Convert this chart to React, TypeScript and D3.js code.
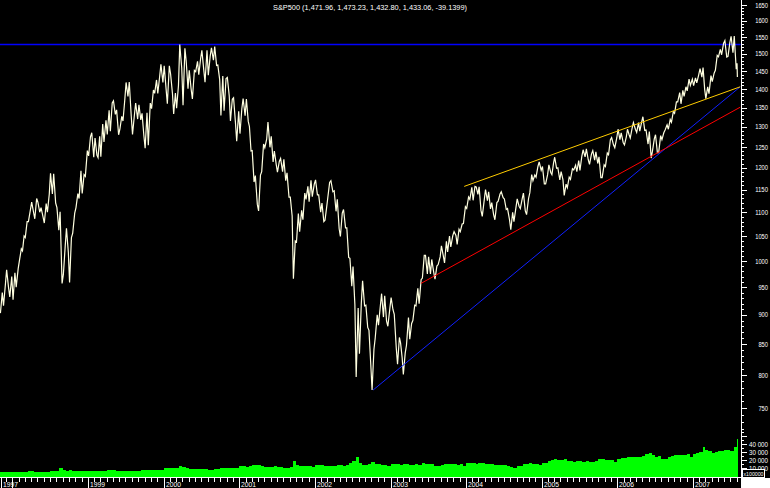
import React from 'react';
import * as d3 from 'd3';

// ---- price data: half-month close ranges (first half = days 1-15, second = 16-end) ----
const lo1997 = [903, 916, 950, 932]; // Nov a .. Dec b
const hi1997 = [940, 955, 983, 970];
const lo1998 = [927,950,1001,1020,1047,1080,1100,1086,1100,1090,1077,1100,1140,1120,1062,957,974,1017,959,1056,1110,1130,1141,1180];
const hi1998 = [977,985,1024,1050,1080,1105,1122,1130,1122,1110,1119,1140,1187,1186,1110,1101,1030,1066,1047,1098,1141,1193,1184,1241];
const lo1999 = [1228,1225,1230,1224,1226,1262,1281,1289,1332,1280,1294,1315,1380,1328,1281,1320,1318,1277,1247,1254,1347,1388,1388,1418];
const hi1999 = [1275,1285,1272,1276,1307,1317,1343,1362,1368,1344,1327,1373,1418,1419,1330,1362,1357,1335,1336,1362,1397,1425,1434,1469];
const lo2000 = [1401,1360,1387,1333,1348,1458,1356,1401,1400,1373,1448,1440,1454,1419,1438,1481,1466,1426,1329,1342,1382,1315,1312,1264];
const hi2000 = [1465,1465,1441,1389,1410,1527,1516,1480,1452,1452,1478,1486,1510,1510,1492,1517,1521,1467,1436,1429,1432,1372,1376,1340];
const lo2001 = [1283,1329,1314,1240,1167,1117,1103,1191,1248,1249,1214,1208,1190,1191,1170,1133,1092,966,1038,1059,1084,1128,1123,1134];
const hi2001 = [1347,1374,1373,1301,1241,1182,1183,1257,1269,1312,1276,1240,1215,1222,1220,1188,1133,1040,1097,1104,1142,1157,1171,1162];
const lo2002 = [1138,1100,1080,1083,1131,1145,1102,1065,1049,1067,1007,952,918,797,834,916,878,815,777,860,882,896,889,880];
const hi2002 = [1172,1138,1120,1110,1166,1170,1147,1128,1098,1106,1067,1005,989,912,920,962,917,873,841,900,916,938,934,911];
const lo2003 = [909,844,817,827,801,848,858,890,916,920,967,975,975,978,965,993,1010,996,1018,1028,1051,1033,1059,1076];
const hi2003 = [931,901,861,852,835,895,885,917,948,964,1011,1011,1008,1003,990,1008,1030,1039,1050,1051,1059,1064,1075,1112];
const lo2004 = [1108,1128,1126,1139,1104,1091,1125,1107,1095,1084,1124,1132,1106,1084,1063,1080,1113,1108,1103,1095,1143,1170,1178,1194];
const hi2004 = [1133,1155,1157,1156,1156,1127,1150,1145,1121,1121,1140,1145,1129,1108,1100,1110,1129,1129,1142,1130,1184,1183,1203,1214];
const lo2005 = [1163,1163,1189,1184,1199,1172,1172,1137,1154,1173,1195,1191,1194,1226,1219,1208,1218,1210,1177,1177,1203,1231,1255,1248];
const hi2005 = [1203,1184,1207,1211,1225,1200,1191,1162,1178,1198,1206,1217,1227,1243,1245,1233,1241,1238,1226,1207,1235,1268,1273,1272];
const lo2006 = [1268,1261,1255,1280,1272,1294,1286,1289,1291,1257,1223,1239,1236,1236,1268,1292,1294,1312,1335,1365,1360,1380,1395,1410];
const hi2006 = [1294,1285,1275,1294,1297,1311,1311,1312,1326,1292,1288,1270,1280,1278,1285,1305,1319,1339,1365,1390,1396,1406,1427,1427];
const lo2007 = [1409,1417,1433,1399,1374,1387,1420,1452,1491,1497,1490,1492,1503,1455,1433];
const hi2007 = [1431,1440,1457,1460,1406,1437,1444,1495,1513,1531,1539,1533,1552,1553,1472];

// ---- volume (x100000), per half-month ----
const vol1997 = [5500,5000,5500,5000];
const vol1998 = [5500,5800,5800,5600,6000,6200,6300,6000,5800,5600,5800,6000,6200,6300,6800,10000,7500,7200,8000,7200,6800,6500,6800,6300];
const vol1999 = [7000,7200,7000,6800,7000,7200,8500,8000,7500,7200,7000,7200,7200,7000,6800,6800,7000,7500,7800,7800,8000,8000,8500,8000];
const vol2000 = [10000,10000,10500,10000,11000,12500,12000,10000,9500,9000,9500,9000,9000,9000,8500,8500,9000,9500,11000,10500,10000,10000,11000,10500];
const vol2001 = [13000,12500,12000,12500,14000,14500,14000,12500,12000,12000,12000,12500,11500,11500,11000,11000,12000,19000,14000,13000,13000,12500,13000,12000];
const vol2002 = [14000,14000,14000,13500,13000,13000,13500,14500,14500,13500,14500,17000,19000,24000,17000,14000,14000,16000,18000,16000,15000,14500,14500,13000];
const vol2003 = [15000,15500,15000,14500,16000,15000,14000,14000,15000,14500,16500,15500,15000,15000,13500,12500,14500,15000,15000,15000,15000,14500,15000,13500];
const vol2004 = [16500,17000,16500,16000,16500,16500,16000,15000,15500,14500,14500,14000,14000,13500,11500,11000,12500,13500,15500,15500,16500,15500,16000,14500];
const vol2005 = [17000,17000,19000,20000,21000,20000,20000,21000,19000,18500,18000,19000,18500,18000,19000,18000,18000,19000,22000,21000,20500,20000,20500,17500];
const vol2006 = [22000,23000,23000,23500,24500,24500,23500,23500,25000,28000,29000,26000,24500,25000,22000,21000,23500,25500,26000,27000,27000,26500,27500,23500];
const vol2007 = [28000,29000,30000,36000,33000,31000,28500,30000,31500,32000,33000,32500,31000,36000,46000];

// ---- reference lines ----
const resistanceLevel = 1527.46;
const blueTrend = [{ date: '2002-10-09', value: 776.8 }, { date: '2007-08-17', value: 1406 }];
const redTrend = [{ date: '2003-05-28', value: 957 }, { date: '2007-08-17', value: 1351 }];
const yellowTrend = [{ date: '2003-12-23', value: 1157 }, { date: '2007-08-17', value: 1406 }];

const yTickLabels = [1650,1600,1550,1500,1450,1400,1350,1300,1250,1200,1150,1100,1050,1000,950,900,850,800,750];
const volTickLabels = [40000, 30000, 20000, 10000];
const yearLabels = ['1999','2000','2001','2002','2003','2004','2005','2006','2007'];
const title = 'S&P500 (1,471.96, 1,473.23, 1,432.80, 1,433.06, -39.1399)';

const lo = [...lo1997, ...lo1998, ...lo1999, ...lo2000, ...lo2001, ...lo2002, ...lo2003, ...lo2004, ...lo2005, ...lo2006, ...lo2007];
const hi = [...hi1997, ...hi1998, ...hi1999, ...hi2000, ...hi2001, ...hi2002, ...hi2003, ...hi2004, ...hi2005, ...hi2006, ...hi2007];
const vol = [...vol1997, ...vol1998, ...vol1999, ...vol2000, ...vol2001, ...vol2002, ...vol2003, ...vol2004, ...vol2005, ...vol2006, ...vol2007];

const lastDate = new Date(Date.UTC(2007, 7, 4));
const periods = lo.map((_, i) => {
  const mIdx = 10 + Math.floor(i / 2); // months since Jan 1997
  const y = 1997 + Math.floor(mIdx / 12);
  const m = mIdx % 12;
  const half = i % 2;
  const start = new Date(Date.UTC(y, m, half ? 16 : 1));
  let end = half ? new Date(Date.UTC(y, m + 1, 1)) : new Date(Date.UTC(y, m, 16));
  if (end > lastDate) end = lastDate;
  return { start, end };
});

const W = 770, H = 488;
const font = "'Liberation Sans', Arial, sans-serif";

export default function App() {
  const x = d3.scaleUtc().domain([new Date(Date.UTC(1999, 0, 1)), new Date(Date.UTC(2007, 0, 1))]).range([88, 693]);
  const y = d3.scaleLog().domain([750, 1650]).range([408, 5]);
  const v = d3.scaleLinear().domain([0, 40000]).range([476.5, 444]);
  const axisX = 741;
  const plotRight = 740.5;

  // zig-zag close path
  const pts: [number, number][] = [];
  for (let i = 0; i < lo.length; i++) {
    const x0 = x(periods[i].start), x1 = x(periods[i].end);
    const mid = (lo[i] + hi[i]) / 2;
    const nextMid = i < lo.length - 1 ? (lo[i + 1] + hi[i + 1]) / 2 : 0;
    const up = nextMid >= mid;
    const a = up ? lo[i] : hi[i];
    const b = up ? hi[i] : lo[i];
    pts.push([x0 + (x1 - x0) * 0.2, y(a)]);
    pts.push([x0 + (x1 - x0) * 0.8, y(b)]);
  }
  const line = d3.line<[number, number]>().x(d => d[0]).y(d => d[1]);

  const trend = (t: { date: string; value: number }[]) => {
    const p = t.map(d => [x(new Date(d.date + 'T00:00:00Z')), y(d.value)] as [number, number]);
    return line(p) || '';
  };

  const monthTicks = d3.utcMonth.range(new Date(Date.UTC(1997, 11, 1)), new Date(Date.UTC(2007, 8, 1)));
  const yearTicks = d3.utcYear.range(new Date(Date.UTC(1998, 0, 1)), new Date(Date.UTC(2007, 1, 1)));
  const minorY = d3.range(720, 1651, 10);
  const volTicks = d3.range(0, 55001, 5000);

  return (
    <svg width={W} height={H} style={{ position: 'absolute', left: 0, top: 0, display: 'block' }} fontFamily={font}>
      <rect x={0} y={0} width={W} height={H} fill="#000" />
      {/* title */}
      <text x={273} y={9.5} fill="#fff" fontSize={7} textLength={194} lengthAdjust="spacingAndGlyphs">{title}</text>

      {/* volume */}
      <g fill="#00ff00" shapeRendering="crispEdges">
        {vol.map((d, i) => {
          const x0 = x(periods[i].start), x1 = x(periods[i].end);
          return <rect key={i} x={x0} width={Math.max(0.5, x1 - x0)} y={v(d)} height={v(0) - v(d)} />;
        })}
      </g>

      {/* resistance line */}
      <line x1={0} x2={plotRight} y1={y(resistanceLevel)} y2={y(resistanceLevel)} stroke="#0000ff" strokeWidth={1.6} />

      {/* price */}
      <path d={line(pts) || ''} fill="none" stroke="#ffffe0" strokeWidth={1.2} strokeLinejoin="miter" />

      {/* trend lines */}
      <path d={trend(blueTrend)} stroke="#1020ff" strokeWidth={1} fill="none" />
      <path d={trend(redTrend)} stroke="#ff0000" strokeWidth={1} fill="none" />
      <path d={trend(yellowTrend)} stroke="#ffcc00" strokeWidth={1} fill="none" />

      {/* right axis */}
      <g stroke="#fff" shapeRendering="crispEdges">
        <line x1={axisX + 0.5} x2={axisX + 0.5} y1={0} y2={478} />
        {minorY.map(t => (
          <line key={t} x1={axisX} x2={axisX + (t % 50 === 0 ? 6 : 3)} y1={Math.round(y(t)) + 0.5} y2={Math.round(y(t)) + 0.5} />
        ))}
        {volTicks.map(t => (
          <line key={'v' + t} x1={axisX} x2={axisX + (t % 10000 === 0 ? 6 : 3)} y1={Math.round(v(t)) + 0.5} y2={Math.round(v(t)) + 0.5} />
        ))}
      </g>
      <g fill="#fff" fontSize={7} textAnchor="end">
        {yTickLabels.map(t => (
          <text key={t} x={768} y={y(t) + 2.6} textLength={String(t).length * 3.2} lengthAdjust="spacingAndGlyphs">{t}</text>
        ))}
        {volTickLabels.map(t => (
          <text key={t} x={768} y={v(t) + 2.6} textLength={19} lengthAdjust="spacingAndGlyphs">{d3.format(',')(t).replace(',', ' ')}</text>
        ))}
      </g>
      <rect x={742.5} y={469.5} width={22} height={8} fill="#000" stroke="#fff" strokeWidth={1} shapeRendering="crispEdges" />
      <text x={743.5} y={476} fill="#fff" fontSize={6} textLength={20} lengthAdjust="spacingAndGlyphs">x100000</text>

      {/* bottom axis */}
      <g stroke="#fff" shapeRendering="crispEdges">
        <line x1={0} x2={axisX} y1={477.5} y2={477.5} />
        {monthTicks.map((d, i) => {
          const xx = Math.round(x(d)) + 0.5;
          const isYear = d.getUTCMonth() === 0;
          return <line key={i} x1={xx} x2={xx} y1={478} y2={isYear ? 488 : 482} />;
        })}
        <line x1={1.5} x2={1.5} y1={478} y2={488} />
      </g>
      <rect x={741} y={478} width={29} height={10} fill="#fff" />
      <g fill="#fff" fontSize={7.5}>
        <text x={3} y={486.5} textLength={15} lengthAdjust="spacingAndGlyphs">1997</text>
        {yearTicks.filter(d => d.getUTCFullYear() >= 1999).map((d, i) => (
          <text key={i} x={Math.round(x(d)) + 2} y={486.5} textLength={15} lengthAdjust="spacingAndGlyphs">{yearLabels[i]}</text>
        ))}
      </g>
    </svg>
  );
}
